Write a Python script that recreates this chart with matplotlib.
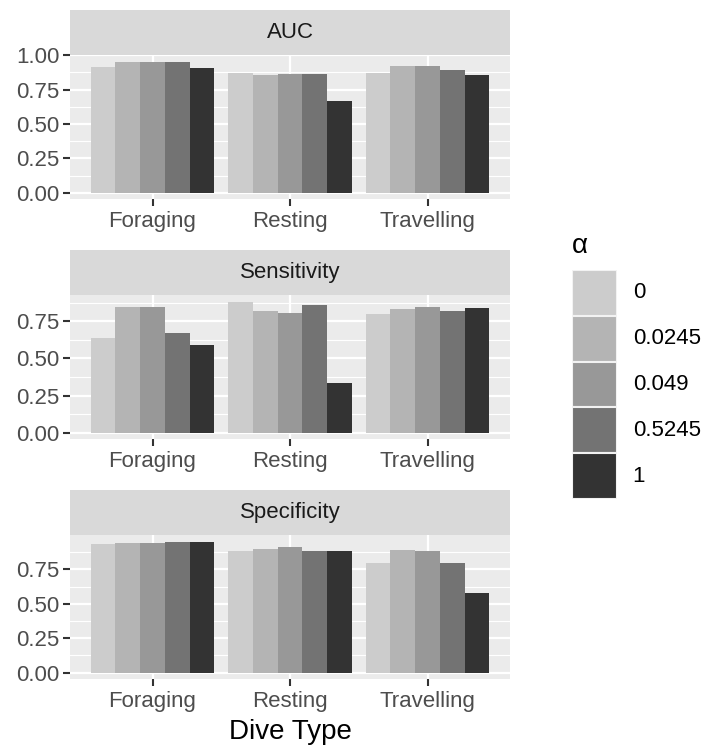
import matplotlib
matplotlib.use("Agg")
import matplotlib.pyplot as plt
import numpy as np
from matplotlib.patches import Rectangle

plt.rcParams['font.family'] = ['Liberation Sans', 'DejaVu Sans']

categories = ["Foraging", "Resting", "Travelling"]
alpha_labels = ["0", "0.0245", "0.049", "0.5245", "1"]
fill_colors = ["#CCCCCC", "#B4B4B4", "#989898", "#737373", "#333333"]
metrics = ["AUC", "Sensitivity", "Specificity"]

# values[alpha][category]
auc = [
    [0.915, 0.869, 0.869],
    [0.950, 0.857, 0.920],
    [0.951, 0.859, 0.920],
    [0.953, 0.859, 0.893],
    [0.905, 0.667, 0.854],
]
sensitivity = [
    [0.637, 0.883, 0.802],
    [0.849, 0.818, 0.833],
    [0.849, 0.806, 0.849],
    [0.671, 0.860, 0.818],
    [0.592, 0.336, 0.840],
]
specificity = [
    [0.930, 0.884, 0.797],
    [0.942, 0.898, 0.893],
    [0.942, 0.913, 0.884],
    [0.947, 0.884, 0.792],
    [0.951, 0.884, 0.576],
]
data = {"AUC": auc, "Sensitivity": sensitivity, "Specificity": specificity}

W, H = 705, 749
fig = plt.figure(figsize=(W / 100, H / 100), dpi=100)

left_px, right_px = 70, 510
panels_px = [(55, 199.3), (295, 439.3), (535, 679.3)]
strips_px = [(10, 55), (250, 295), (490, 535)]

def fbox(x0, x1, ytop, ybot):
    return [x0 / W, 1 - ybot / H, (x1 - x0) / W, (ybot - ytop) / H]

n_alpha = len(alpha_labels)
bw = 0.9 / n_alpha
xpos = np.arange(1, len(categories) + 1)

for mi, m in enumerate(metrics):
    ax = fig.add_axes(fbox(left_px, right_px, *panels_px[mi]))
    vals = np.array(data[m])
    ymax = vals.max()
    pad = 0.05 * ymax
    ax.set_facecolor("#EBEBEB")
    for s in ax.spines.values():
        s.set_visible(False)
    for ai in range(n_alpha):
        offs = (ai - (n_alpha - 1) / 2) * bw
        ax.bar(xpos + offs, vals[ai], width=bw, color=fill_colors[ai],
               edgecolor="none", zorder=3)
    ax.set_xlim(0.4, len(categories) + 0.6)
    ax.set_ylim(-pad, ymax + pad)
    major = [t for t in [0, 0.25, 0.5, 0.75, 1.0] if -pad <= t <= ymax + pad]
    minor = [t for t in [0.125, 0.375, 0.625, 0.875] if -pad <= t <= ymax + pad]
    ax.set_yticks(major)
    ax.set_yticklabels(["%.2f" % t for t in major])
    ax.set_yticks(minor, minor=True)
    ax.set_xticks(xpos)
    ax.set_xticklabels(categories)
    ax.grid(True, which="major", color="white", linewidth=1.6, zorder=0)
    ax.grid(True, which="minor", axis="y", color="white", linewidth=0.8, zorder=0)
    ax.set_axisbelow(True)
    ax.tick_params(axis="both", which="major", length=5, width=1.5,
                   color="#333333", labelcolor="#4D4D4D", labelsize=16)
    ax.tick_params(axis="y", which="major", pad=2.5)
    ax.tick_params(axis="x", which="major", pad=3.5)
    ax.tick_params(which="minor", length=0)
    if mi == len(metrics) - 1:
        ax.set_xlabel("Dive Type", fontsize=20, color="black", labelpad=5)

    sax = fig.add_axes(fbox(left_px, right_px, *strips_px[mi]))
    sax.set_facecolor("#D9D9D9")
    sax.set_xticks([])
    sax.set_yticks([])
    for s in sax.spines.values():
        s.set_visible(False)
    sax.text(0.5, 0.5, m, ha="center", va="center", fontsize=16,
             color="#1A1A1A", transform=sax.transAxes)

# legend
key_top, key_bot = 270, 499
lax = fig.add_axes(fbox(572, 617, key_top, key_bot))
lax.set_xlim(0, 1)
lax.set_ylim(n_alpha, 0)
lax.axis("off")
for ai in range(n_alpha):
    lax.add_patch(Rectangle((0, ai), 1, 1, facecolor=fill_colors[ai],
                            edgecolor="#F2F2F2", linewidth=1.5))
    lax.text(1.35, ai + 0.5, alpha_labels[ai], ha="left", va="center",
             fontsize=16, color="black", clip_on=False)
fig.text(572 / W, 1 - 246 / H, "α", ha="left", va="center", fontsize=20,
         color="black")

fig.savefig("out.png", dpi=100)
